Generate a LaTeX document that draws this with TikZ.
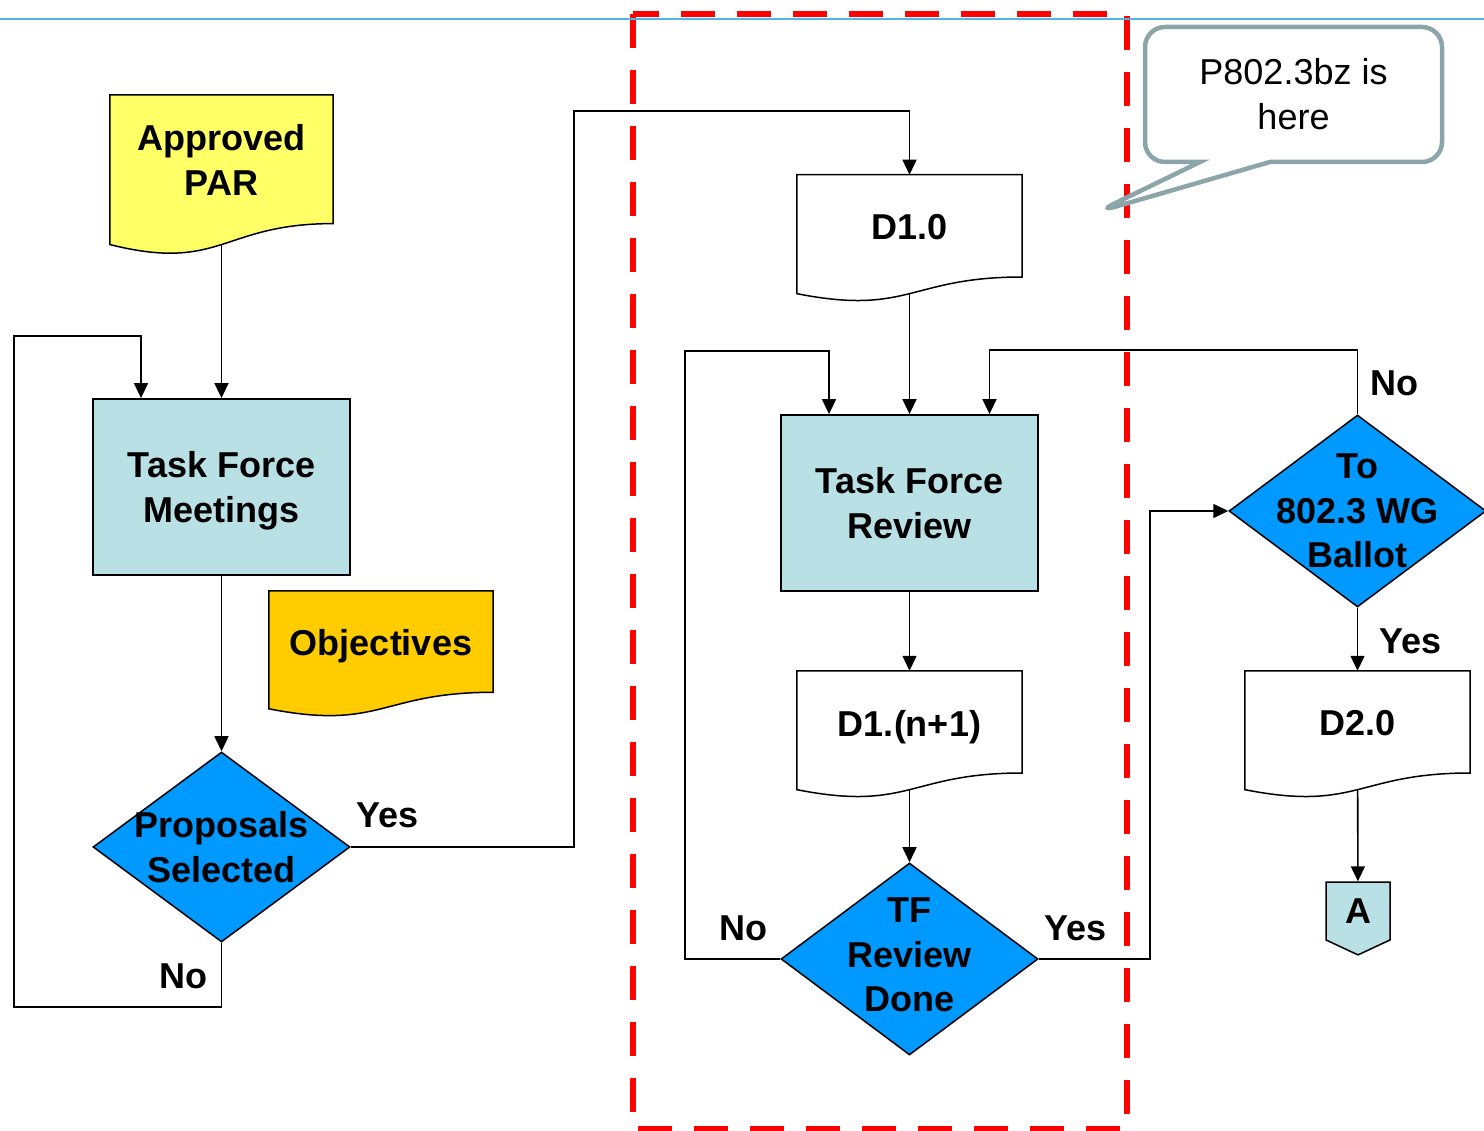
\documentclass[tikz,border=0pt]{standalone}
\usepackage{fontspec}
\setmainfont{Liberation Sans}
\usetikzlibrary{shapes.geometric, shapes.symbols, shapes.callouts, arrows.meta, calc, backgrounds}

\definecolor{parfill}{HTML}{FFFF66}
\definecolor{objfill}{HTML}{FFCC00}
\definecolor{procfill}{HTML}{B9E0E5}
\definecolor{decfill}{HTML}{0099FF}
\definecolor{noteline}{HTML}{8BA5A9}
\definecolor{topline}{HTML}{55B4E6}
\definecolor{dashred}{HTML}{FF0000}

\tikzstyle{process} = [rectangle, minimum width=257pt, minimum height=176pt, inner sep=0pt, align=center, text depth=0pt, draw=black, line width=1.8pt, fill=procfill]
\tikzstyle{decision} = [diamond, minimum width=257pt, minimum height=192pt, inner sep=0pt, draw=black, line width=1.5pt, fill=decfill]
\tikzstyle{doc} = [rectangle, minimum width=225pt, minimum height=118.5pt, inner sep=0pt, align=center, text depth=14pt]
\tikzstyle{offpage} = [signal, signal to=south, signal from=nowhere, signal pointer angle=130, minimum width=64pt, minimum height=64pt, inner sep=0pt, draw=black, line width=1.5pt, fill=procfill]
\tikzstyle{speech} = [rectangle callout, rounded corners=20pt, minimum width=297pt, minimum height=135pt, align=center, draw=noteline, line width=4.5pt, fill=white, font=\fontsize{36}{45}\selectfont]
\tikzstyle{lbl} = [inner sep=0pt]
\tikzstyle{arrow} = [line width=1.6pt, ->, >={Triangle[length=15pt,width=14pt]}]

% document shape with wavy bottom, drawn from the node's anchors
\newcommand{\docshape}[2]{%
  \filldraw[fill=#2, draw=black, line width=1.5pt] (#1.north west) -- (#1.north east)
    -- ($(#1.north east)!0.86!(#1.south east)$)
    .. controls ($(#1.north)!0.86!(#1.south)$) and ($(#1.north)!1.187!(#1.south)$) .. (#1.south west)
    -- cycle;}

\begin{document}
\begin{tikzpicture}[x=1pt, y=-1pt, font=\fontsize{36}{44.5}\selectfont\bfseries]
	\useasboundingbox (0,0) rectangle (1484,1131);

	% left column
	\node (par) [doc, minimum width=223pt, minimum height=149.3pt, text depth=19pt] at (221.5,169.7) {Approved\\PAR};
	\node (tfm) [process] at (221.5,487) {Task Force\\Meetings};
	\node (obj) [doc, minimum width=224pt, minimum height=117.6pt] at (381,649.8) {Objectives};
	\node (ps) [decision, minimum height=190pt, label={[align=center]center:Proposals\\Selected}] at (221.5,847) {};

	% middle column
	\node (d10) [doc] at (909.5,234.2) {D1.0};
	\node (tfr) [process] at (909.5,503) {Task Force\\Review};
	\node (dn1) [doc] at (909.5,730.2) {D1.(n+1)};
	\node (tfd) [decision, label={[align=center, yshift=4pt]center:TF\\Review\\Done}] at (909.5,959) {};

	% right column
	\node (wg) [decision, label={[align=center]center:To\\802.3 WG\\Ballot}] at (1357.5,511) {};
	\node (d20) [doc] at (1357.5,730.2) {D2.0};
	\node (a) [offpage] at (1358,911) {A};

	\begin{scope}[on background layer]
		\docshape{par}{parfill}
		\docshape{obj}{objfill}
		\docshape{d10}{white}
		\docshape{dn1}{white}
		\docshape{d20}{white}
	\end{scope}

	\draw [arrow] (par) -- (tfm);
	\draw [arrow] (tfm) -- (ps);
	\draw [arrow] (ps.south) node[lbl, anchor=north east, xshift=-13pt, yshift=-20pt] {No}
		-- ++(0,64) -| ++(-207.5,-671) -| ([xshift=-80.5pt]tfm.north);
	\draw [arrow] (ps.east) node[lbl, anchor=south west, xshift=5pt, yshift=18pt] {Yes}
		-| ++(223,-736) -| (d10.north);

	\draw [arrow] (d10) -- (tfr);
	\draw [arrow] (tfr) -- (dn1);
	\draw [arrow] (dn1) -- (tfd);
	\draw [arrow] (tfd.west) node[lbl, anchor=south east, xshift=-12pt, yshift=17pt] {No}
		-| ++(-95,-608) -| ([xshift=-80.5pt]tfr.north);
	\draw [arrow] (tfd.east) node[lbl, anchor=south west, xshift=5pt, yshift=17pt] {Yes}
		-| ++(111,-448) -- (wg.west);

	\draw [arrow] (wg.north) node[lbl, anchor=south west, xshift=12.5pt, yshift=18pt] {No}
		-- ++(0,-64) -| ([xshift=80pt]tfr.north);
	\draw [arrow] (wg.south) node[lbl, anchor=north west, xshift=21pt, yshift=-20pt] {Yes} -- (d20);
	\draw [arrow] (d20) -- (a);

	% frame round the current stage
	\draw [dashred, line width=6pt, dash pattern=on 34pt off 22pt] (633,14) rectangle (1127,1129);
	\draw [topline, line width=2pt] (0,19) -- (1484,19);

	\node (note) [speech, callout absolute pointer={(1097,212)}, callout pointer width=70pt] at (1293.5,94.5) {P802.3bz is\\here};
\end{tikzpicture}
\end{document}
